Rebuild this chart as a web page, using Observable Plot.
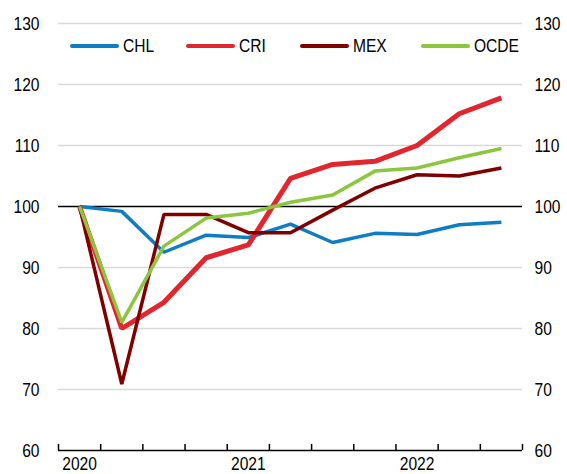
<!DOCTYPE html>
<html><head><meta charset="utf-8">
<script src="https://cdn.jsdelivr.net/npm/d3@7"></script>
<script src="https://cdn.jsdelivr.net/npm/@observablehq/plot@0.6"></script>
<style>
body{margin:0;background:#fff;}
#wrap{position:relative;width:567px;height:474px;font-family:"Liberation Sans",Arial,sans-serif;}
.leg{position:absolute;top:34px;display:flex;align-items:center;font-size:19px;color:#000;line-height:24px;white-space:nowrap;}
.leg .sw{display:inline-block;width:49px;height:4px;border-radius:2px;margin-right:4px;}
.leg .tx{display:inline-block;transform:scaleX(0.82);transform-origin:left center;}
</style></head><body><div id="wrap"></div>
<script>
const quarters = ["2020-T1","2020-T2","2020-T3","2020-T4","2021-T1","2021-T2","2021-T3","2021-T4","2022-T1","2022-T2","2022-T3"];
const yearLabels = ["2020","2021","2022"];
const yTicks = [60,70,80,90,100,110,120,130];
const names = ["CHL","CRI","MEX","OCDE"];
const colors = ["#0f7dc2","#e3262d","#800000","#8cc63f"];
const CHL  = [100, 99.2, 92.5, 95.3, 94.9, 97.1, 94.1, 95.6, 95.4, 97.0, 97.4];
const CRI  = [100, 80.0, 84.3, 91.6, 93.7, 104.6, 106.9, 107.4, 110.0, 115.2, 117.8];
const MEX  = [100, 70.9, 98.7, 98.7, 95.7, 95.7, 99.4, 103.0, 105.2, 105.0, 106.3];
const OCDE = [100, 81.0, 93.5, 98.1, 98.9, 100.7, 101.9, 105.8, 106.3, 108.0, 109.5];

const seriesValues = [CHL, CRI, MEX, OCDE];
const widths = [3.5, 5, 3.5, 3.5];
const font = '"Liberation Sans",Arial,sans-serif';

const yearIdx = yearLabels.map(y => quarters.findIndex(q => q.startsWith(y)));
const tickPos = d3.range(quarters.length + 1).map(i => i - 0.5);

const lineMarks = names.map((n, k) =>
  Plot.line(seriesValues[k].map((v, i) => ({i, v})), {
    x: "i", y: "v", stroke: colors[k], strokeWidth: widths[k],
    strokeLinejoin: "miter", strokeLinecap: "butt"
  })
);

const chart = Plot.plot({
  width: 567, height: 474,
  marginLeft: 58, marginRight: 45, marginTop: 23, marginBottom: 24,
  x: {domain: [-0.5, quarters.length - 0.5], axis: null, label: null},
  y: {domain: [60, 130], axis: null, label: null},
  style: {fontFamily: font, fontSize: "19px", color: "#000", background: "#fff", overflow: "visible"},
  marks: [
    Plot.ruleY(yTicks.filter(d => d !== 60 && d !== 100), {stroke: "#d9d9d9", strokeWidth: 1.3}),
    Plot.ruleY([100], {stroke: "#000", strokeWidth: 1.5}),
    Plot.ruleY([60], {stroke: "#000", strokeWidth: 1.5}),
    Plot.ruleX(tickPos, {y1: 60, y2: 61, stroke: "#000", strokeWidth: 1.5}),
    Plot.axisY({anchor: "left", ticks: yTicks, tickSize: 0, tickPadding: 19, fontSize: 19, label: null}),
    Plot.axisY({anchor: "right", ticks: yTicks, tickSize: 0, tickPadding: 12, fontSize: 19, label: null}),
    Plot.axisX({ticks: yearIdx, tickFormat: i => quarters[i].slice(0, 4), tickSize: 0, tickPadding: 6, fontSize: 19, label: null}),
    ...lineMarks
  ]
});
const wrap = document.getElementById("wrap");
wrap.appendChild(chart);

// narrow the glyphs like the condensed face of the original
chart.querySelectorAll("text").forEach(t => {
  const len = t.getComputedTextLength();
  if (len > 0) {
    t.setAttribute("textLength", (len * 0.82).toFixed(2));
    t.setAttribute("lengthAdjust", "spacingAndGlyphs");
  }
});

const legLefts = [70, 186, 300, 421];
names.forEach((n, k) => {
  const d = document.createElement("div");
  d.className = "leg";
  d.style.left = legLefts[k] + "px";
  d.innerHTML = `<span class="sw" style="background:${colors[k]}"></span><span class="tx">${n}</span>`;
  wrap.appendChild(d);
});
</script></body></html>
